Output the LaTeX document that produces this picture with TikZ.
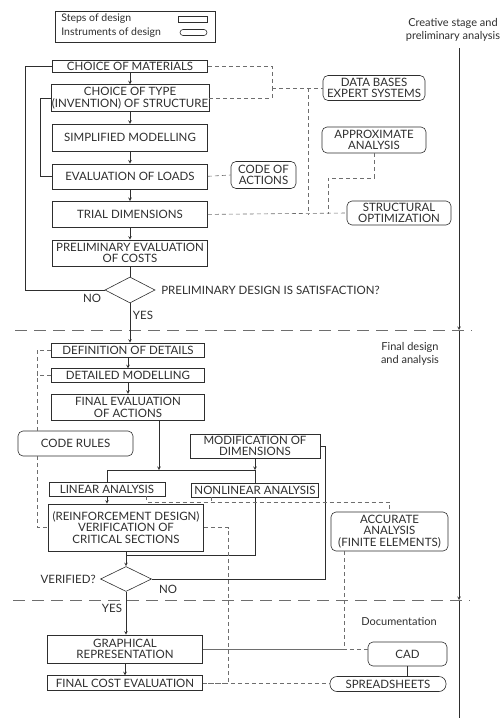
\documentclass[tikz,border=0pt]{standalone}
\usepackage{fontspec}
\setmainfont{Lato}
\usepackage{tikz}
\usetikzlibrary{shapes.geometric, arrows, positioning}

\definecolor{ink}{HTML}{2E2E2E}
\definecolor{dashink}{HTML}{6E6E6E}

\begin{document}
\begin{tikzpicture}[
    x=1pt, y=-1pt,
    node distance=12pt,
    line width=0.6pt,
    stepbox/.style={rectangle, draw=ink, text=ink, minimum width=155pt, inner sep=1pt, align=center, font=\fontsize{11.5}{11.5}\selectfont},
    toolbox/.style={rectangle, draw=ink, text=ink, rounded corners=5pt, inner sep=1pt, align=center, font=\fontsize{11.5}{11.5}\selectfont},
    check/.style={diamond, draw=ink, inner sep=0pt, minimum width=50pt, minimum height=26pt},
    label/.style={text=ink, inner sep=1pt, align=center, font=\fontsize{11.5}{11.5}\selectfont},
    stage/.style={text=ink, inner sep=1pt, align=center, font=\fontsize{11}{13.5}\selectfont},
    key/.style={text=ink, inner sep=1pt, font=\fontsize{10.5}{12}\selectfont},
    line/.style={draw=ink},
    arrow/.style={draw=ink, ->, >=stealth},
    link/.style={draw=dashink, dash pattern=on 4pt off 3pt},
    sep/.style={draw=dashink, dash pattern=on 12pt off 7pt}
]
\useasboundingbox (0,0) rectangle (501,718);

% Legend
\node [draw=ink, minimum width=160pt, minimum height=31pt] (legend) at (135,26.5) {};
\node [key, anchor=west] (keysteptxt) at (60,19) {Steps of design};
\node [key, anchor=west] (keytooltxt) at (60,32.5) {Instruments of design};
\node [draw=ink, minimum width=29pt, minimum height=6pt, inner sep=0pt] (keystep) at (192.5,19) {};
\node [draw=ink, rounded corners=3pt, minimum width=27pt, minimum height=6pt, inner sep=0pt] (keytool) at (193.5,32.5) {};

% Stages
\node [stage] (stagea) at (453,30) {Creative stage and\\preliminary analysis};
\node [stage] (stageb) at (410,354) {Final design\\and analysis};
\node [stage] (stagec) at (399,622) {Documentation};

% Creative stage
\node [stepbox, minimum height=12pt] (mat) at (130,66) {CHOICE OF MATERIALS};
\node [stepbox, minimum height=27pt, below=of mat] (type) {CHOICE OF TYPE\\(INVENTION) OF STRUCTURE};
\node [stepbox, minimum height=27pt, below=of type] (simp) {SIMPLIFIED MODELLING};
\node [stepbox, minimum height=25pt, below=of simp] (loads) {EVALUATION OF LOADS};
\node [stepbox, minimum height=26pt, below=of loads] (trial) {TRIAL DIMENSIONS};
\node [stepbox, minimum height=26pt, below=of trial] (cost) {PRELIMINARY EVALUATION\\OF COSTS};
\node [check] (dec1) at (130,290) {};
\node [label, anchor=west] (q1) at (160,290) {PRELIMINARY DESIGN IS SATISFACTION?};
\node [label] (no1) at (92,298) {NO};
\node [label] (yes1) at (143,315) {YES};

\node [toolbox, minimum width=102pt, minimum height=25pt] (db) at (374,88) {DATA BASES\\EXPERT SYSTEMS};
\node [toolbox, minimum width=104pt, minimum height=26pt] (approx) at (374,140) {APPROXIMATE\\ANALYSIS};
\node [toolbox, minimum width=65pt, minimum height=27pt] (codeact) at (263.5,175) {CODE OF\\ACTIONS};
\node [toolbox, minimum width=104pt, minimum height=24pt] (opt) at (399,213) {STRUCTURAL\\OPTIMIZATION};

% Final design
\node [stepbox, minimum width=153pt, minimum height=14pt] (det) at (128,350) {DEFINITION OF DETAILS};
\node [stepbox, minimum width=153pt, minimum height=14pt, below=11pt of det] (dmod) {DETAILED MODELLING};
\node [stepbox, minimum width=153pt, minimum height=26pt, below=11pt of dmod] (feval) {FINAL EVALUATION\\OF ACTIONS};
\node [toolbox, minimum width=115pt, minimum height=25pt] (coderules) at (75.5,443.5) {CODE RULES};
\node [stepbox, minimum width=130pt, minimum height=24pt] (modif) at (255,446) {MODIFICATION OF\\DIMENSIONS};
\node [stepbox, minimum width=116pt, minimum height=14pt] (lin) at (107,489) {LINEAR ANALYSIS};
\node [stepbox, minimum width=127pt, minimum height=14pt] (nonlin) at (255,490) {NONLINEAR ANALYSIS};
\node [stepbox, minimum height=47pt] (reinf) at (126,527.5) {(REINFORCEMENT DESIGN)\\VERIFICATION OF\\CRITICAL SECTIONS};
\node [toolbox, minimum width=117pt, minimum height=39pt] (accur) at (389.5,531.5) {ACCURATE\\ANALYSIS\\(FINITE ELEMENTS)};
\node [check, minimum width=51pt, minimum height=25pt] (dec2) at (126,579) {};
\node [label, anchor=east] (q2) at (97,579) {VERIFIED?};
\node [label] (no2) at (168,589) {NO};
\node [label] (yes2) at (112,608) {YES};

% Documentation
\node [stepbox, minimum height=28pt] (graph) at (125,649) {GRAPHICAL\\REPRESENTATION};
\node [stepbox, minimum height=15pt, below=12pt of graph] (fcost) {FINAL COST EVALUATION};
\node [toolbox, minimum width=79pt, minimum height=24pt] (cad) at (407.5,654) {CAD};
\node [toolbox, rounded corners=7pt, minimum width=116pt, minimum height=15pt] (sheets) at (388,684) {SPREADSHEETS};

% Coordinates
\coordinate (railtop) at (459,48);
\coordinate (raila) at (459,330);
\coordinate (railb) at (459,600);
\coordinate (railend) at (459,718);
\coordinate (sepastart) at (15,330);
\coordinate (sepaend) at (472,330);
\coordinate (sepbstart) at (13,600);
\coordinate (sepbend) at (470,600);
\coordinate (loopx) at (25,290);
\coordinate (innerx) at (40,0);
\coordinate (dbx) at (272,88);
\coordinate (dbdrop) at (308,88);
\coordinate (apx) at (328,178);
\coordinate (crx) at (37,0);
\coordinate (fork) at (159,470);
\coordinate (merge) at (126,555);
\coordinate (noret) at (325,0);
\coordinate (feline) at (0,502);
\coordinate (costx) at (228,0);

% Stages rail
\draw [arrow] (railtop) -- (raila);
\draw [arrow] (raila) -- (railb);
\draw [line] (railb) -- (railend);
\draw [sep] (sepastart) -- (sepaend);
\draw [sep] (sepbstart) -- (sepbend);

% Arrows
\foreach \a/\b in {mat/type, type/simp, simp/loads, loads/trial, trial/cost}
    \draw [arrow] (\a) -- (\b);
\draw [line] (cost) -- (dec1);
\draw [line] (dec1.west) -- (loopx) |- (mat.west);
\draw [line] (type.west) -- (type.west -| innerx) |- (loads.west);
\draw [arrow] (dec1.south) -- (dec1.south |- det.north);
\draw [arrow] (det) -- (dmod);
\draw [arrow] (dmod) -- (feval);
\draw [arrow] (fork |- feval.south) -- (fork);
\draw [arrow] (modif.south) -- (modif.south |- fork);
\draw [line] (lin.north) |- (nonlin.north |- fork) -- (nonlin.north);
\draw [arrow] (lin.south) -- (lin.south |- reinf.north);
\draw [line] (nonlin.south) |- (merge);
\draw [arrow] (reinf.south) -- (dec2.north);
\draw [line] (dec2.east) -- (dec2.east -| noret) |- (modif.east);
\draw [arrow] (dec2.south) -- (dec2.south |- graph.north);
\draw [arrow] (graph.south -| fcost.north) -- (fcost.north);
\draw [line] (cad.south) -- (cad.south |- sheets.north);

% Links to instruments
\draw [link] (mat.east) -| (dbx);
\draw [link] (type.east) -| (dbx);
\draw [link] (dbx) -- (db.west);
\draw [link] (dbdrop) -- (dbdrop |- trial.east);
\draw [link] (approx.south) |- (apx) -- (apx |- trial.east);
\draw [link] (trial.east) -- (opt.west);
\draw [link] (loads.east) -- (codeact.west);
\draw [link] (det.west) -- (det.west -| crx) -- (crx |- coderules.north);
\draw [link] (dmod.west) -- (dmod.west -| crx);
\draw [link] (crx |- coderules.south) |- (reinf.west);
\draw [link] ([xshift=-19pt]lin.south east) |- (accur.north |- feline) -- (accur.north);
\draw [link] ([xshift=-44pt]nonlin.south) -- ([xshift=-44pt]nonlin.south |- feline);
\draw [link] (reinf.east) -- (reinf.east -| costx) |- (fcost.east);
\draw [link] (fcost.east) -- (fcost.east -| sheets.west);
\draw [link] ([xshift=-45pt]accur.south) |- (graph.east);
\draw [link] (graph.east) -- (graph.east -| cad.west);

\end{tikzpicture}
\end{document}
